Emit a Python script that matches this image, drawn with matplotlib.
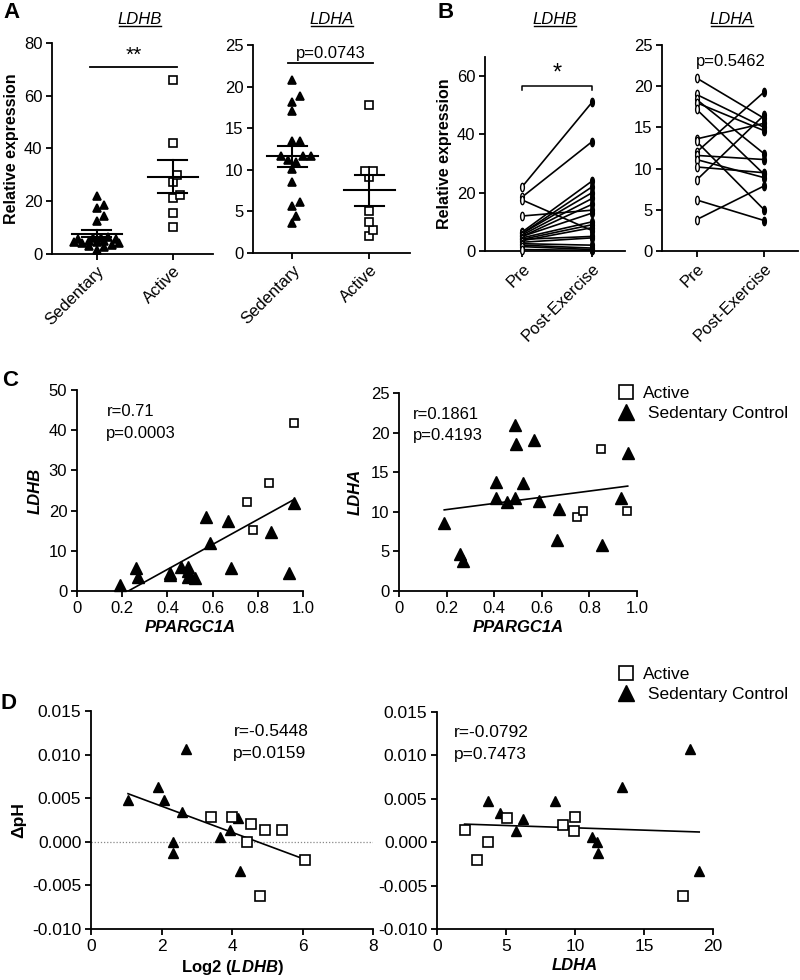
import numpy as np
import matplotlib as mpl
mpl.use('Agg')
import matplotlib.pyplot as plt
from matplotlib.path import Path
from matplotlib.lines import Line2D

plt.rcParams['font.family'] = ['Liberation Sans', 'DejaVu Sans']
plt.rcParams['axes.unicode_minus'] = False
plt.rcParams['mathtext.fontset'] = 'custom'
plt.rcParams['mathtext.it'] = 'Liberation Sans:italic:bold'
plt.rcParams['mathtext.rm'] = 'Liberation Sans:bold'
plt.rcParams['mathtext.bf'] = 'Liberation Sans:bold'

# ---------------- data ----------------
# A: relative expression, sedentary vs active
a_ldhb_sed = [22.0, 18.5, 17.5, 14.5, 12.5, 6.5, 6.0, 6.0, 5.5, 5.5, 5.0, 5.0,
              4.5, 4.5, 4.0, 4.0, 3.5, 3.0, 2.5, 1.5]
a_ldhb_act = [66.0, 42.0, 30.0, 27.2, 22.5, 21.2, 15.5, 10.1]
a_ldha_sed = [20.8, 18.9, 18.2, 17.1, 13.5, 13.5, 11.7, 11.6, 11.6, 11.2, 10.9,
              10.1, 8.5, 6.1, 5.6, 4.5, 3.6]
a_ldha_act = [17.8, 9.9, 9.9, 9.1, 5.1, 3.7, 2.8, 2.0]
a_groups = ['Sedentary', 'Active']

# B: pre vs post exercise (paired)
b_ldhb_pre = [22.0, 18.5, 17.5, 12.0, 6.5, 6.0, 6.0, 5.5, 5.0, 5.0, 4.5, 4.0,
              4.0, 3.5, 3.0, 2.5, 2.0, 1.5, 0.5]
b_ldhb_post = [51.0, 37.5, 7.0, 14.0, 24.0, 22.0, 20.0, 18.0, 16.0, 13.0, 10.0,
               9.0, 5.0, 8.0, 4.5, 2.0, 1.0, 0.5, 0.2]
b_ldha_pre = [21.0, 19.0, 18.4, 18.0, 17.2, 13.6, 13.3, 12.0, 11.6, 11.1, 10.2,
              8.6, 6.2, 3.8]
b_ldha_post = [16.1, 15.0, 11.8, 14.6, 9.3, 15.5, 5.0, 19.3, 11.1, 8.9, 9.5,
               16.5, 3.7, 7.9]
b_groups = ['Pre', 'Post-Exercise']

# C: correlation with PPARGC1A
c_sed_x = [0.19, 0.26, 0.27, 0.41, 0.41, 0.46, 0.49, 0.49, 0.49, 0.52, 0.57,
           0.59, 0.67, 0.68, 0.86, 0.94, 0.96]
c_sed_ldhb = [1.4, 5.6, 3.5, 4.6, 3.9, 6.0, 6.0, 3.5, 5.0, 3.2, 18.3, 12.0,
              17.4, 5.6, 14.7, 4.5, 21.8]
c_act_x = [0.75, 0.78, 0.85, 0.96]
c_act_ldhb = [22.2, 15.1, 26.9, 41.9]

c2_sed_x = [0.19, 0.256, 0.27, 0.408, 0.408, 0.455, 0.487, 0.49, 0.487, 0.52,
            0.569, 0.59, 0.674, 0.665, 0.851, 0.933, 0.961]
c2_sed_ldha = [8.6, 4.7, 3.8, 13.8, 11.8, 11.2, 21.0, 18.5, 11.8, 13.6, 19.1,
               11.4, 10.3, 6.4, 5.8, 11.8, 17.4]
c2_act_x = [0.747, 0.775, 0.847, 0.957]
c2_act_ldha = [9.3, 10.1, 17.9, 10.1]

# D: delta pH
d_sed_log2ldhb = [1.05, 1.89, 2.06, 2.70, 2.32, 2.34, 2.58, 3.66, 3.94, 4.16, 4.24]
d_sed_dph = [0.0048, 0.0063, 0.0048, 0.0106, 0.0, -0.0013, 0.0034, 0.0006,
             0.0013, 0.0027, -0.0034]
d_act_log2ldhb = [3.40, 3.99, 4.53, 4.43, 4.93, 5.43, 6.07, 4.79]
d_act_dph = [0.0029, 0.0029, 0.0020, 0.0, 0.0013, 0.0013, -0.0021, -0.0062]

d2_sed_ldha = [3.73, 4.58, 5.71, 6.22, 8.55, 11.2, 11.6, 11.7, 13.4, 18.3, 19.0]
d2_sed_dph = [0.0048, 0.0034, 0.0013, 0.0027, 0.0048, 0.0006, 0.0, -0.0013,
              0.0064, 0.0107, -0.0033]
d2_act_ldha = [2.0, 2.9, 3.73, 5.06, 9.1, 10.0, 9.95, 17.8]
d2_act_dph = [0.0014, -0.0020, 0.0, 0.0028, 0.0020, 0.0029, 0.0013, -0.0062]

stats_c = ['r=0.71\np=0.0003', 'r=0.1861\np=0.4193']
stats_d = ['r=-0.5448\np=0.0159', 'r=-0.0792\np=0.7473']

# ---------------- figure ----------------
W, H = 800, 980
fig = plt.figure(figsize=(W / 100, H / 100), dpi=100)

TICK = 12


def add_ax(x0, y0, x1, y1):
    ax = fig.add_axes([x0 / W, 1 - y1 / H, (x1 - x0) / W, (y1 - y0) / H])
    for s in ['top', 'right']:
        ax.spines[s].set_visible(False)
    for s in ['left', 'bottom']:
        ax.spines[s].set_linewidth(1.3)
    ax.tick_params(width=1.3, length=4.5, pad=2.5, labelsize=TICK, direction='out')
    return ax


def swarm(vals, ax, d_px, max_px):
    # greedy beeswarm offsets (data units), limited width like a column scatter
    x0, x1 = ax.get_xlim()
    y0, y1 = ax.get_ylim()
    bb = ax.get_position()
    sx = bb.width * W / (x1 - x0)
    sy = bb.height * H / (y1 - y0)
    step = d_px * 0.5
    n = int(max_px // step)
    cands = [0.0]
    for k in range(1, n + 1):
        cands += [k * step, -k * step]
    placed, offs = [], []
    for v in vals:
        y = v * sy
        best, best_d = 0.0, -1
        for c in cands:
            dmin = min([np.hypot(c - px, y - py) for px, py in placed] + [1e9])
            if dmin >= d_px:
                best = c
                break
            if dmin > best_d:
                best, best_d = c, dmin
        placed.append((best, y))
        offs.append(best / sx)
    return np.array(offs)


def column_plot(ax, sed, act, ylim, yticks, sig_y, sig_x, sig_txt, sig_fs):
    ax.set_ylim(*ylim)
    ax.set_yticks(yticks)
    ax.set_xticks([0, 1])
    ax.set_xticklabels(a_groups, rotation=45, ha='right', rotation_mode='anchor',
                       fontsize=TICK)
    for i, (vals, mk, fc) in enumerate([(sed, '^', 'black'), (act, 's', 'white')]):
        vals = np.array(vals)
        off = swarm(sorted(vals), ax, 7.5, 26)
        ax.plot(i + off, sorted(vals), ls='none', marker=mk, ms=5.8 if mk == '^' else 6,
                mfc=fc, mec='black', mew=1.2, clip_on=False, zorder=3)
        m = vals.mean()
        se = vals.std(ddof=1) / np.sqrt(len(vals))
        ax.plot([i - 0.33, i + 0.33], [m, m], color='black', lw=1.5, zorder=4)
        ax.plot([i, i], [m - se, m + se], color='black', lw=1.5, zorder=4)
        for e in (m - se, m + se):
            ax.plot([i - 0.19, i + 0.19], [e, e], color='black', lw=1.5, zorder=4)
    ax.plot(sig_x, [sig_y, sig_y], color='black', lw=1.3, clip_on=False)
    ax.text(np.mean(sig_x), sig_y + (ylim[1] - ylim[0]) * 0.01, sig_txt,
            ha='center', va='bottom', fontsize=sig_fs)


# ---- A ----
axA1 = add_ax(52, 43, 213, 254)
axA1.set_xlim(-0.59, 1.53)
column_plot(axA1, a_ldhb_sed, a_ldhb_act, (0, 80), [0, 20, 40, 60, 80],
            71, [-0.09, 1.05], '**', 15)
axA1.set_ylabel('Relative expression', fontsize=11.5, fontweight='bold', labelpad=3)

axA2 = add_ax(253, 45, 410, 253)
axA2.set_xlim(-0.51, 1.53)
column_plot(axA2, a_ldha_sed, a_ldha_act, (0, 25), [0, 5, 10, 15, 20, 25],
            22.8, [-0.06, 1.05], 'p=0.0743', TICK)

# ---- B ----
theta = np.linspace(0, 2 * np.pi, 41)
ellipse = Path(np.column_stack([0.45 * np.cos(theta), np.sin(theta)]))


def paired_plot(ax, pre, post, ylim, yticks):
    ax.set_ylim(*ylim)
    ax.set_yticks(yticks)
    ax.set_xticks([0, 1])
    ax.set_xticklabels(b_groups, rotation=45, ha='right', rotation_mode='anchor',
                       fontsize=TICK)
    for p, q in zip(pre, post):
        ax.plot([0, 1], [p, q], color='black', lw=1.2, zorder=2)
    ax.plot(np.zeros(len(pre)), pre, ls='none', marker=ellipse, ms=6, mfc='white',
            mec='black', mew=1.0, zorder=3, clip_on=False)
    ax.plot(np.ones(len(post)), post, ls='none', marker=ellipse, ms=6, mfc='black',
            mec='black', mew=1.0, zorder=3, clip_on=False)


axB1 = add_ax(485, 57, 625, 251)
axB1.set_xlim(-0.53, 1.47)
paired_plot(axB1, b_ldhb_pre, b_ldhb_post, (0, 66.5), [0, 20, 40, 60])
axB1.plot([0, 0, 1, 1], [55.3, 56.6, 56.6, 55.3], color='black', lw=1.1)
axB1.text(0.5, 57.0, '*', ha='center', va='bottom', fontsize=17)
axB1.set_ylabel('Relative expression', fontsize=11.5, fontweight='bold', labelpad=3)

axB2 = add_ax(662, 45, 798, 251)
axB2.set_xlim(-0.51, 1.5)
paired_plot(axB2, b_ldha_pre, b_ldha_post, (0, 25), [0, 5, 10, 15, 20, 25])
axB2.text(0.51, 23.0, 'p=0.5462', ha='center', va='center', fontsize=TICK)


# ---- C / D scatter ----
def scatter_plot(ax, sx, sy, ax_, ay, ms_t, ms_s):
    allx = np.array(sx + ax_)
    ally = np.array(sy + ay)
    k, b = np.polyfit(allx, ally, 1)
    xx = np.array([allx.min(), allx.max()])
    ax.plot(xx, k * xx + b, color='black', lw=1.2, zorder=2)
    ax.plot(sx, sy, ls='none', marker='^', ms=ms_t, color='black', zorder=3,
            clip_on=False)
    ax.plot(ax_, ay, ls='none', marker='s', ms=ms_s, mfc='white', mec='black',
            mew=1.2, zorder=3, clip_on=False)


axC1 = add_ax(77, 390, 303, 591)
axC1.set_xlim(0, 1.0)
axC1.set_ylim(0, 50)
scatter_plot(axC1, c_sed_x, c_sed_ldhb, c_act_x, c_act_ldhb, 8, 6)
axC1.set_xticks([0, 0.2, 0.4, 0.6, 0.8, 1.0])
axC1.set_xticklabels(['0', '0.2', '0.4', '0.6', '0.8', '1.0'])
axC1.set_yticks([0, 10, 20, 30, 40, 50])
axC1.set_xlabel('PPARGC1A', fontsize=12, fontweight='bold', style='italic', labelpad=3)
axC1.set_ylabel('LDHB', fontsize=12, fontweight='bold', style='italic', labelpad=4)
axC1.text(0.13, 0.93, stats_c[0], transform=axC1.transAxes, fontsize=TICK,
          va='top', ha='left', linespacing=1.55)

axC2 = add_ax(399, 393, 637, 591)
axC2.set_xlim(0, 1.0)
axC2.set_ylim(0, 25)
scatter_plot(axC2, c2_sed_x, c2_sed_ldha, c2_act_x, c2_act_ldha, 8, 6)
axC2.set_xticks([0, 0.2, 0.4, 0.6, 0.8, 1.0])
axC2.set_xticklabels(['0', '0.2', '0.4', '0.6', '0.8', '1.0'])
axC2.set_yticks([0, 5, 10, 15, 20, 25])
axC2.set_xlabel('PPARGC1A', fontsize=12, fontweight='bold', style='italic', labelpad=3)
axC2.set_ylabel('LDHA', fontsize=12, fontweight='bold', style='italic', labelpad=6)
axC2.text(0.06, 0.93, stats_c[1], transform=axC2.transAxes, fontsize=TICK,
          va='top', ha='left', linespacing=1.55)

axD1 = add_ax(91, 711, 373, 929)
axD1.set_xlim(0, 8)
axD1.set_ylim(-0.010, 0.015)
axD1.axhline(0, color='#888888', lw=0.9, ls=(0, (1, 1.5)), zorder=1)
scatter_plot(axD1, d_sed_log2ldhb, d_sed_dph, d_act_log2ldhb, d_act_dph, 7.5, 6.5)
axD1.set_xticks([0, 2, 4, 6, 8])
axD1.set_yticks([-0.010, -0.005, 0.0, 0.005, 0.010, 0.015])
axD1.yaxis.set_major_formatter(mpl.ticker.FormatStrFormatter('%.3f'))
axD1.tick_params(labelsize=12.5)
axD1.set_xlabel('Log2 ($LDHB$)', fontsize=12, fontweight='bold', labelpad=3)
axD1.set_ylabel('\u0394pH', fontsize=12.5, fontweight='bold', labelpad=4)
axD1.text(0.505, 0.94, stats_d[0], transform=axD1.transAxes, fontsize=12.5,
          va='top', ha='left', linespacing=1.55)

axD2 = add_ax(437, 712, 713, 929)
axD2.set_xlim(0, 20)
axD2.set_ylim(-0.010, 0.015)
scatter_plot(axD2, d2_sed_ldha, d2_sed_dph, d2_act_ldha, d2_act_dph, 7.5, 6.5)
axD2.set_xticks([0, 5, 10, 15, 20])
axD2.set_yticks([-0.010, -0.005, 0.0, 0.005, 0.010, 0.015])
axD2.yaxis.set_major_formatter(mpl.ticker.FormatStrFormatter('%.3f'))
axD2.tick_params(labelsize=12.5)
axD2.set_xlabel('LDHA', fontsize=12, fontweight='bold', style='italic', labelpad=3)
axD2.text(0.06, 0.94, stats_d[1], transform=axD2.transAxes, fontsize=12.5,
          va='top', ha='left', linespacing=1.55)

# legends
leg_handles = [Line2D([], [], ls='none', marker='s', ms=10, mfc='white', mec='black', mew=1.2),
               Line2D([], [], ls='none', marker='^', ms=12, color='black')]
leg_labels = ['Active', ' Sedentary Control']
for ax, ytop in [(axC2, 386), (axD2, 667)]:
    ax.legend(leg_handles, leg_labels, loc='upper left',
              bbox_to_anchor=(617 / W, 1 - ytop / H), bbox_transform=fig.transFigure,
              frameon=False, fontsize=12.5, handlelength=1.0, handletextpad=0.5,
              labelspacing=0.25, borderpad=0, borderaxespad=0)

# panel letters
for lab, x, y in [('A', 12, 13), ('B', 446, 13), ('C', 10, 380), ('D', 9, 703)]:
    fig.text(x / W, 1 - y / H, lab, fontsize=16, fontweight='bold', ha='center', va='center')

# underlined gene titles
titles = []
for lab, x in [('LDHB', 140), ('LDHA', 332), ('LDHB', 555), ('LDHA', 732)]:
    titles.append(fig.text(x / W, 1 - 19 / H, lab, fontsize=12, style='italic',
                           ha='center', va='center'))
fig.canvas.draw()
inv = fig.transFigure.inverted()
for t in titles:
    bb = t.get_window_extent()
    (x0, y0), (x1, _) = inv.transform([[bb.x0, bb.y0], [bb.x1, bb.y1]])
    fig.add_artist(Line2D([x0 + 0.002, x1 - 0.002], [y0 + 0.001, y0 + 0.001],
                          transform=fig.transFigure, color='black', lw=1.0))

fig.savefig('out.png', dpi=100)
